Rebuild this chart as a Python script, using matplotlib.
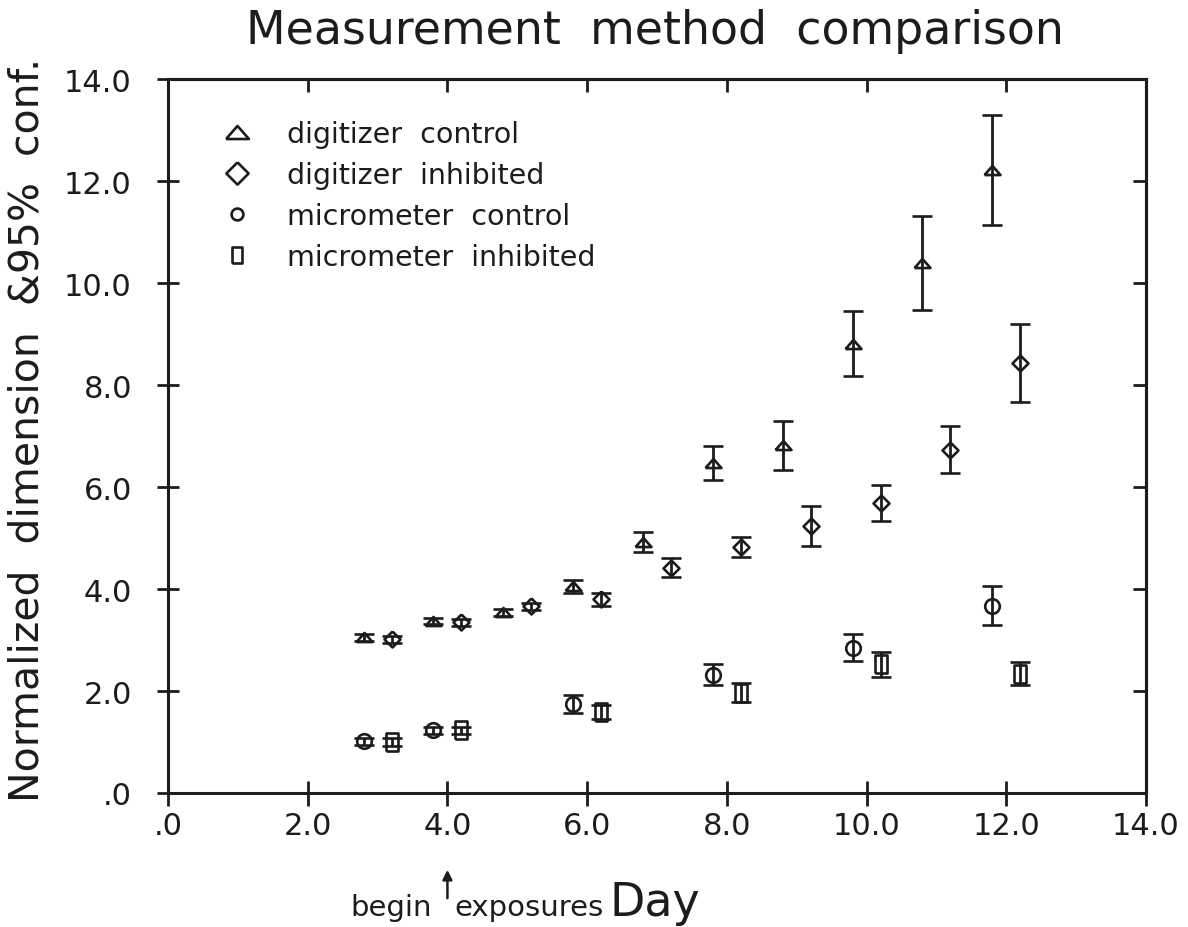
import matplotlib
matplotlib.use('Agg')
import matplotlib.pyplot as plt
from matplotlib.lines import Line2D

# ---------------- data ----------------
dc_x = [2.8, 3.8, 4.8, 5.8, 6.8, 7.8, 8.8, 9.8, 10.8, 11.8]
dc_y = [3.05, 3.37, 3.54, 4.05, 4.92, 6.47, 6.82, 8.81, 10.39, 12.21]
dc_err = [0.07, 0.06, 0.06, 0.13, 0.20, 0.33, 0.48, 0.64, 0.92, 1.08]

di_x = [3.2, 4.2, 5.2, 6.2, 7.2, 8.2, 9.2, 10.2, 11.2, 12.2]
di_y = [3.01, 3.35, 3.66, 3.80, 4.42, 4.82, 5.23, 5.69, 6.73, 8.43]
di_err = [0.07, 0.07, 0.07, 0.13, 0.18, 0.19, 0.39, 0.35, 0.46, 0.76]

mc_x = [2.8, 3.8, 5.8, 7.8, 9.8, 11.8]
mc_y = [1.01, 1.23, 1.75, 2.32, 2.85, 3.67]
mc_err = [0.07, 0.07, 0.18, 0.20, 0.27, 0.38]

mi_x = [3.2, 4.2, 6.2, 8.2, 10.2, 12.2]
mi_y = [1.00, 1.23, 1.59, 1.97, 2.52, 2.34]
mi_err = [0.07, 0.07, 0.13, 0.18, 0.25, 0.23]

labels = ['digitizer  control', 'digitizer  inhibited',
          'micrometer  control', 'micrometer  inhibited']

ticks = [0, 2, 4, 6, 8, 10, 12, 14]
tick_labels = ['.0', '2.0', '4.0', '6.0', '8.0', '10.0', '12.0', '14.0']

title = 'Measurement  method  comparison'
ylabel = 'Normalized  dimension  &95%  conf.'
xlabel = 'Day'
note_left = 'begin'
note_right = 'exposures'
exposure_day = 4.0

# ---------------- style ----------------
plt.rcParams['font.family'] = ['DejaVu Sans']
ink = '#1c1c1c'

tri = [(-1, -0.57), (1, -0.57), (0, 0.57), (-1, -0.57)]
dia = [(0, 1), (1, 0), (0, -1), (-1, 0), (0, 1)]
rect = [(-0.65, -1), (0.65, -1), (0.65, 1), (-0.65, 1), (-0.65, -1)]

fig = plt.figure(figsize=(11.88, 9.28), dpi=100)
ax = fig.add_axes([168 / 1188, 134 / 928, 978 / 1188, 714 / 928])

series = [
    (dc_x, dc_y, dc_err, tri, 11.5, 16.5),
    (di_x, di_y, di_err, dia, 11.5, 16.0),
    (mc_x, mc_y, mc_err, 'o', 10.5, 8.5),
    (mi_x, mi_y, mi_err, rect, 12.5, 12.0),
]

handles = []
for (x, y, e, m, ms, lms), lab in zip(series, labels):
    ax.errorbar(x, y, yerr=e, linestyle='none', marker=m, ms=ms,
                mfc='none', mec=ink, mew=1.9, ecolor=ink,
                elinewidth=2.0, capsize=7.5, capthick=2.4, zorder=3)
    handles.append(Line2D([], [], linestyle='none', marker=m, ms=lms,
                          mfc='none', mec=ink, mew=1.9, label=lab))

ax.set_xlim(0, 14)
ax.set_ylim(0, 14)
ax.set_xticks(ticks)
ax.set_xticklabels(tick_labels)
ax.set_yticks(ticks)
ax.set_yticklabels(tick_labels)

for sp in ax.spines.values():
    sp.set_linewidth(2.2)
    sp.set_color(ink)

ax.tick_params(axis='x', direction='inout', length=18, width=2, color=ink,
               labelsize=22, pad=4, top=False, labelcolor=ink)
ax.tick_params(axis='y', direction='inout', length=16, width=2, color=ink,
               labelsize=22, pad=18, right=False, labelcolor=ink)

secx = ax.secondary_xaxis('top')
secx.set_xticks(ticks)
secx.set_xticklabels([])
secx.tick_params(direction='in', length=9.5, width=2, color=ink)
secx.spines['top'].set_linewidth(2.2)

secy = ax.secondary_yaxis('right')
secy.set_yticks(ticks)
secy.set_yticklabels([])
secy.tick_params(direction='in', length=9.5, width=2, color=ink)
secy.spines['right'].set_linewidth(2.2)

leg = ax.legend(handles=handles, loc='upper left',
                bbox_to_anchor=(55 / 978, 1 - 41 / 714),
                frameon=False, fontsize=20.5, handlelength=1.0,
                handletextpad=1.25, labelspacing=0.46, borderpad=0,
                borderaxespad=0)
for t in leg.get_texts():
    t.set_color(ink)

fig.text(655 / 1188, 1 - 32 / 928, title, fontsize=33, ha='center',
         va='center', color=ink)
fig.text(28 / 1188, 1 - 430 / 928, ylabel, fontsize=29.5, rotation=90,
         ha='center', va='center', color=ink)
fig.text(655 / 1188, 1 - 916 / 928, xlabel, fontsize=33, ha='center',
         va='baseline', color=ink)
fig.text(432 / 1188, 1 - 916 / 928, note_left, fontsize=21, ha='right',
         va='baseline', color=ink)
fig.text(454 / 1188, 1 - 916 / 928, note_right, fontsize=21, ha='left',
         va='baseline', color=ink)
ax.annotate('', xy=(exposure_day, 1 - 868 / 928),
            xytext=(exposure_day, 1 - 902 / 928),
            xycoords=('data', 'figure fraction'),
            textcoords=('data', 'figure fraction'),
            arrowprops=dict(arrowstyle='-|>', color=ink, lw=1.8,
                            mutation_scale=14), annotation_clip=False)

fig.savefig('out.png', dpi=100)
